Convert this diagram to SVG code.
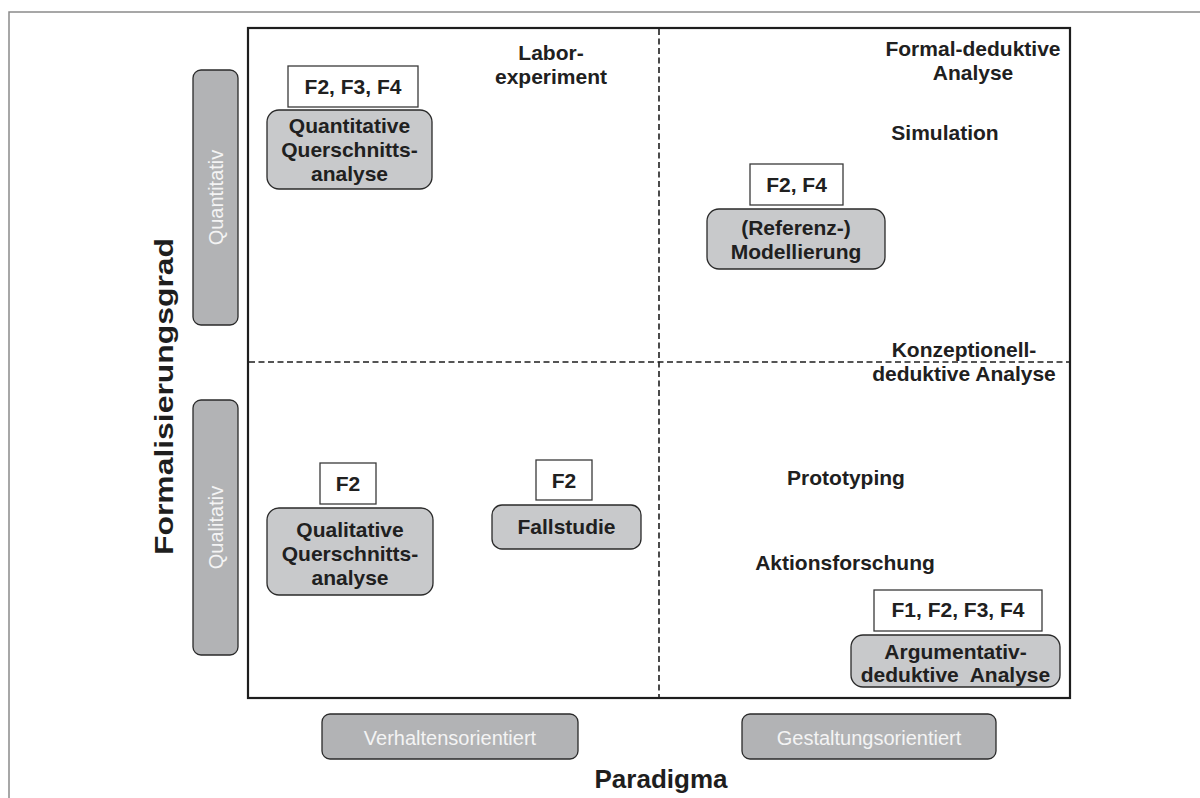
<svg xmlns="http://www.w3.org/2000/svg" width="1200" height="798" viewBox="0 0 1200 798">
<style>
.b{font-family:"Liberation Sans",Arial,sans-serif;font-weight:bold;font-size:21px;fill:#202020;text-anchor:middle}
.ax{font-family:"Liberation Sans",Arial,sans-serif;font-weight:bold;font-size:26px;fill:#1e1e1e;text-anchor:middle}
.w{font-family:"Liberation Sans",Arial,sans-serif;font-size:20px;fill:#f4f4f4;text-anchor:middle}
.node{fill:#c8c9cb;stroke:#2a2a2a;stroke-width:1.3}
.bar{fill:#b2b3b5;stroke:#2a2a2a;stroke-width:1.3}
.tag{fill:#ffffff;stroke:#3a3a3a;stroke-width:1.3}
.dash{stroke:#1e1e1e;stroke-width:1.6;stroke-dasharray:6,3.5;fill:none}
</style>
<rect width="1200" height="798" fill="#ffffff"/>
<path d="M9,798 V12 H1200" fill="none" stroke="#8a8a8a" stroke-width="1.5"/>
<rect x="248" y="28" width="822" height="670" fill="none" stroke="#1e1e1e" stroke-width="2.2"/>
<g id="connectors">
<line class="dash" x1="659" y1="29" x2="659" y2="697"/>
<line class="dash" x1="249" y1="362" x2="1069" y2="362"/>
</g>
<g id="axis-y">
<text class="ax" x="173" y="396.5" transform="rotate(-90 173 396.5)" textLength="317" lengthAdjust="spacingAndGlyphs">Formalisierungsgrad</text>
</g>
<g id="bar-quantitativ">
<rect class="bar" x="193" y="70" width="45" height="255" rx="8"/>
<text class="w" x="223" y="197.5" transform="rotate(-90 223 197.5)">Quantitativ</text>
</g>
<g id="bar-qualitativ">
<rect class="bar" x="193" y="400" width="45" height="255" rx="8"/>
<text class="w" x="223" y="527.5" transform="rotate(-90 223 527.5)">Qualitativ</text>
</g>
<g id="box-verhalten">
<rect class="bar" x="322" y="714" width="256" height="45" rx="8"/>
<text class="w" x="450" y="745">Verhaltensorientiert</text>
</g>
<g id="box-gestaltung">
<rect class="bar" x="742" y="714" width="254" height="45" rx="8"/>
<text class="w" x="869" y="745">Gestaltungsorientiert</text>
</g>
<g id="axis-x">
<text class="ax" x="661" y="788">Paradigma</text>
</g>
<g id="quant-querschnitt">
<rect class="tag" x="288" y="66" width="130" height="41"/>
<text class="b" x="353" y="94">F2, F3, F4</text>
<rect class="node" x="267" y="110" width="165" height="79" rx="12"/>
<text class="b" x="349.5" y="133">Quantitative</text>
<text class="b" x="349.5" y="157">Querschnitts-</text>
<text class="b" x="349.5" y="181">analyse</text>
</g>
<g id="laborexperiment">
<text class="b" x="551" y="60">Labor-</text>
<text class="b" x="551" y="84">experiment</text>
</g>
<g id="formal-deduktiv">
<text class="b" x="973" y="56">Formal-deduktive</text>
<text class="b" x="973" y="80">Analyse</text>
</g>
<g id="simulation">
<text class="b" x="945" y="140">Simulation</text>
</g>
<g id="modellierung">
<rect class="tag" x="750" y="164" width="93" height="41"/>
<text class="b" x="796.5" y="192">F2, F4</text>
<rect class="node" x="707" y="209" width="178" height="60" rx="12"/>
<text class="b" x="796" y="235">(Referenz-)</text>
<text class="b" x="796" y="259">Modellierung</text>
</g>
<g id="konzeptionell">
<text class="b" x="964" y="357">Konzeptionell-</text>
<text class="b" x="964" y="381">deduktive Analyse</text>
</g>
<g id="qual-querschnitt">
<rect class="tag" x="320" y="463" width="56" height="41"/>
<text class="b" x="348" y="491">F2</text>
<rect class="node" x="267" y="508" width="166" height="87" rx="12"/>
<text class="b" x="350" y="537">Qualitative</text>
<text class="b" x="350" y="561">Querschnitts-</text>
<text class="b" x="350" y="585">analyse</text>
</g>
<g id="fallstudie">
<rect class="tag" x="536" y="460" width="56" height="40"/>
<text class="b" x="564" y="488">F2</text>
<rect class="node" x="492" y="505" width="149" height="44" rx="10"/>
<text class="b" x="566.5" y="534">Fallstudie</text>
</g>
<g id="prototyping">
<text class="b" x="846" y="485">Prototyping</text>
</g>
<g id="aktionsforschung">
<text class="b" x="845" y="570">Aktionsforschung</text>
</g>
<g id="argumentativ">
<rect class="tag" x="874" y="590" width="168" height="41"/>
<text class="b" x="958" y="617">F1, F2, F3, F4</text>
<rect class="node" x="851" y="635" width="209" height="52" rx="12"/>
<text class="b" x="955.5" y="659">Argumentativ-</text>
<text class="b" x="955.5" y="682" xml:space="preserve">deduktive  Analyse</text>
</g>
</svg>
